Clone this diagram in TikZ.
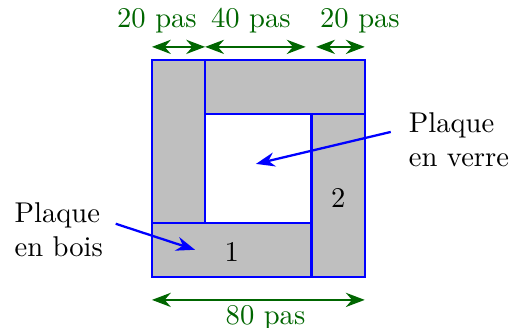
\documentclass[tikz,border=0pt]{standalone}
\usetikzlibrary{arrows.meta}
\colorlet{vert}{green!40!black}
\tikzset{
  plaque/.style={draw=blue,thick,fill=lightgray},
  cote/.style={{Stealth}-{Stealth},thick,vert},
  fleche/.style={-{Stealth},thick,blue},
}
\begin{document}
\begin{tikzpicture}[x=0.0327cm,y=0.0333cm]
\useasboundingbox (-57.1,-18.8) rectangle (140.6,102.2);
% les quatre plaques en bois
\draw[plaque] (0,20) rectangle (20,80);
\draw[plaque] (20,60) rectangle (80,80);
\draw[plaque] (60,0) rectangle (80,60);
\draw[plaque] (0,0) rectangle (60,20);
\node (un) at (30,9.2) {1};
\node (deux) at (70,29.2) {2};

% cotes
\draw[cote] (0,84.9) -- (20,84.9);
\draw[cote] (20,84.9) -- (57.8,84.9);
\draw[cote] (61.7,84.9) -- (80,84.9);
\draw[cote] (0,-8.5) -- (80,-8.5);
\node[vert] (cgauche) at (1.9,94.5) {20 pas};
\node[vert] (cmilieu) at (37.2,94.5) {40 pas};
\node[vert] (cdroite) at (78.2,94.5) {20 pas};
\node[vert] (cbas) at (42.7,-15.1) {80 pas};

% legendes
\node[align=left] (bois) at (-35,17.3) {Plaque\\en bois};
\node[align=left] (verre) at (115.4,50.6) {Plaque\\en verre};
\coordinate (pbois) at (16.2,10);
\coordinate (pverre) at (39.1,41.7);
\draw[fleche] ([shift={(1,2.3)}]bois.east) -- (pbois);
\draw[fleche] ([shift={(-3,2.9)}]verre.west) -- (pverre);
\end{tikzpicture}
\end{document}
